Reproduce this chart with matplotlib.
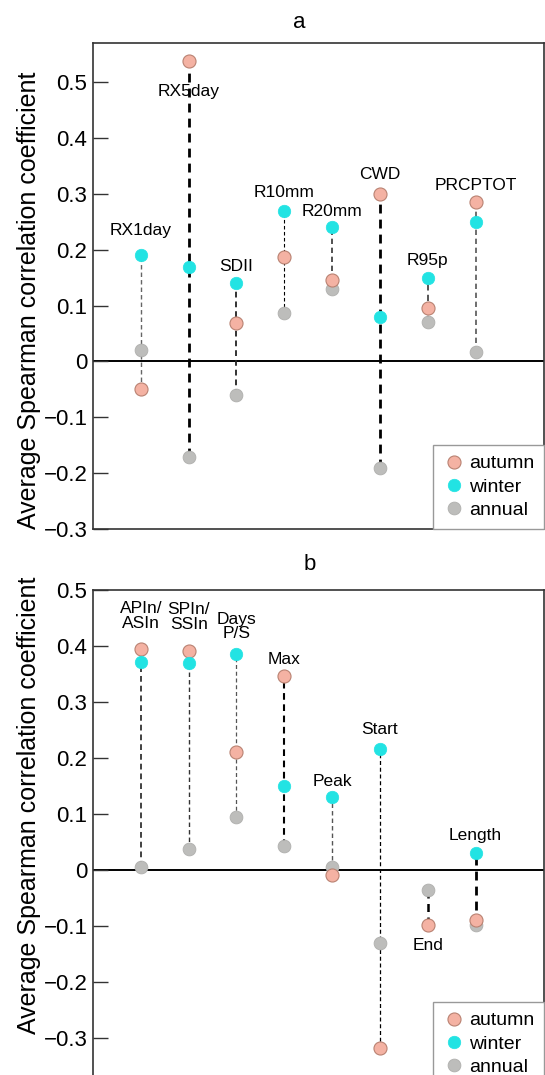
import matplotlib
matplotlib.use("Agg")
import matplotlib.pyplot as plt
from matplotlib.lines import Line2D

plt.rcParams['font.family'] = ['Liberation Sans', 'DejaVu Sans']

# ---- panel a: extreme precipitation indices ----
idx_a = ['RX1day', 'RX5day', 'SDII', 'R10mm', 'R20mm', 'CWD', 'R95p', 'PRCPTOT']
autumn_a = [-0.05, 0.537, 0.068, 0.187, 0.145, 0.300, 0.095, 0.285]
winter_a = [0.190, 0.169, 0.140, 0.270, 0.240, 0.080, 0.150, 0.250]
annual_a = [0.020, -0.172, -0.061, 0.086, 0.130, -0.190, 0.070, 0.017]

# ---- panel b: precipitation/snow indices ----
idx_b = ['APIn/\nASIn', 'SPIn/\nSSIn', 'Days\nP/S', 'Max', 'Peak', 'Start', 'End', 'Length']
autumn_b = [0.394, 0.392, 0.211, 0.347, -0.008, -0.317, -0.098, -0.088]
winter_b = [0.371, 0.370, 0.385, 0.150, 0.130, 0.216, None, 0.030]
annual_b = [0.005, 0.037, 0.095, 0.043, 0.005, -0.130, -0.035, -0.097]

# styling (not data)
stem_lw_a = [1.0, 2.0, 1.3, 0.8, 1.2, 2.0, 1.4, 1.2]
stem_col_a = ['#666666', 'black', '#222222', 'black', '#333333', 'black', '#555555', '#555555']
label_off_a = [18, -22, 12, 13, 11.5, 13.7, 12.2, 12.2]   # points from stem end
stem_lw_b = [1.3, 1.0, 0.9, 1.5, 1.0, 0.9, 1.8, 2.0]
stem_col_b = ['#333333', '#333333', '#555555', 'black', '#555555', 'black', 'black', 'black']
label_off_b = [24, 24, 20, 11.5, 11.5, 14.4, -14.4, 13]

c_aut = '#F4B2A3'
c_aut_edge = '#B98272'
c_win = '#22E3E3'
c_ann = '#BDBDBB'


def draw_panel(ax, names, aut, win, ann, lws, cols, offs, label_y):
    x = list(range(1, len(names) + 1))
    ax.axhline(0, color='black', lw=1.4, zorder=1)
    for i in range(len(names)):
        vals = [v for v in (aut[i], win[i], ann[i]) if v is not None]
        lo, hi = min(vals), max(vals)
        ax.plot([x[i], x[i]], [lo, hi], ls=(0, (3.2, 2.2)), color=cols[i],
                lw=lws[i], zorder=2)
        off = offs[i]
        ref = hi if (off > 0 or names[i] == 'RX5day') else lo
        ax.annotate(names[i], (x[i], ref), xytext=(0, off), textcoords='offset points',
                    ha='center', va='center', fontsize=12.5, linespacing=0.95, zorder=5)
    xa = [x[i] for i in range(len(x)) if ann[i] is not None]
    ax.plot(xa, [v for v in ann if v is not None], 'o', ls='none', ms=9.2,
            mfc=c_ann, mec='#AFAFAD', mew=0.6, zorder=3)
    xau = [x[i] for i in range(len(x)) if aut[i] is not None]
    ax.plot(xau, [v for v in aut if v is not None], 'o', ls='none', ms=9.4,
            mfc=c_aut, mec=c_aut_edge, mew=0.8, zorder=3)
    xw = [x[i] for i in range(len(x)) if win[i] is not None]
    ax.plot(xw, [v for v in win if v is not None], 'o', ls='none', ms=9.0,
            mfc=c_win, mec=c_win, mew=0.5, zorder=4)

    ax.set_xlim(0, 9.43)
    ax.set_xticks([])
    ax.tick_params(axis='y', direction='in', length=11, width=1.0, labelsize=16,
                   pad=4, color='#333333')
    ax.set_yticklabels([('0' if abs(t) < 1e-9 else f'{t:.1f}'.replace('-', '\u2212'))
                        for t in ax.get_yticks()])
    for s in ax.spines.values():
        s.set_color('#333333')
        s.set_linewidth(1.2)
    ax.set_ylabel('Average Spearman correlation coefficient', fontsize=18)
    ax.yaxis.set_label_coords(-0.116, label_y)

    handles = [
        Line2D([], [], marker='o', ls='none', ms=9.4, mfc=c_aut, mec=c_aut_edge, mew=0.8, label='autumn'),
        Line2D([], [], marker='o', ls='none', ms=9.0, mfc=c_win, mec=c_win, mew=0.5, label='winter'),
        Line2D([], [], marker='o', ls='none', ms=9.2, mfc=c_ann, mec='#AFAFAD', mew=0.6, label='annual'),
    ]
    leg = ax.legend(handles=handles, loc='lower right', borderaxespad=0, fontsize=14,
                    fancybox=False, framealpha=1, edgecolor='#999999',
                    handletextpad=0.15, handlelength=1.2, labelspacing=0.3,
                    borderpad=0.5)
    leg.get_frame().set_linewidth(1.0)


fig = plt.figure(figsize=(5.45, 10.75), dpi=100)

ax1 = fig.add_axes([93 / 545, 1 - 529 / 1075, 451 / 545, 486 / 1075])
ax1.set_ylim(-0.3, 0.57)
ax1.set_yticks([-0.3, -0.2, -0.1, 0, 0.1, 0.2, 0.3, 0.4, 0.5])
draw_panel(ax1, idx_a, autumn_a, winter_a, annual_a, stem_lw_a, stem_col_a, label_off_a, 0.471)

ax2 = fig.add_axes([93 / 545, 1 - 1086 / 1075, 451 / 545, 496 / 1075])
ax2.set_ylim(-0.385, 0.5)
ax2.set_yticks([-0.3, -0.2, -0.1, 0, 0.1, 0.2, 0.3, 0.4, 0.5])
draw_panel(ax2, idx_b, autumn_b, winter_b, annual_b, stem_lw_b, stem_col_b, label_off_b, 0.565)

fig.text(299 / 545, 1 - 23 / 1075, 'a', ha='center', va='center', fontsize=16)
fig.text(310 / 545, 1 - 565 / 1075, 'b', ha='center', va='center', fontsize=16)

fig.savefig('out.png', dpi=100, facecolor='white')
